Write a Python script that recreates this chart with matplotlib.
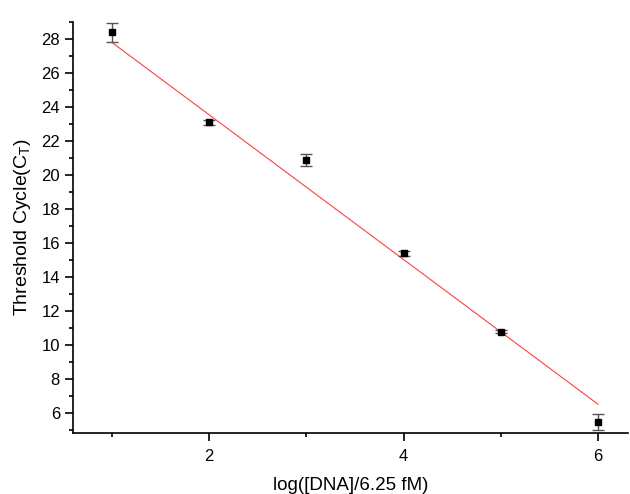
import numpy as np
import matplotlib.pyplot as plt

plt.rcParams['font.family'] = ['Liberation Sans', 'DejaVu Sans']

# data
log_conc = [1, 2, 3, 4, 5, 6]
ct_mean = [28.39, 23.1, 20.9, 15.4, 10.78, 5.45]
ct_err = [0.55, 0.15, 0.35, 0.15, 0.08, 0.47]

# linear fit shown as red line
fit_slope = -4.26
fit_intercept = 32.06

fig = plt.figure(figsize=(6.3, 4.94), dpi=100)
ax = fig.add_axes([0.116, 0.124, 0.881, 0.832])

xfit = np.array([log_conc[0], log_conc[-1]])
ax.plot(xfit, fit_intercept + fit_slope * xfit, color='#ff4040', lw=0.8, zorder=2)

ax.errorbar(log_conc, ct_mean, yerr=ct_err, fmt='s', color='black', ms=4.5,
            ecolor='#555555', elinewidth=1.0, capsize=4, capthick=1.0, zorder=3)

ax.set_xlim(0.6, 6.31)
ax.set_ylim(4.82, 29.02)
ax.set_xticks([2, 4, 6])
ax.set_xticks([1, 3, 5], minor=True)
ax.set_yticks(np.arange(6, 29, 2))
ax.set_yticks(np.arange(5, 30, 2), minor=True)

for s in ['top', 'right']:
    ax.spines[s].set_visible(False)
for s in ['left', 'bottom']:
    ax.spines[s].set_linewidth(1.2)

ax.tick_params(which='major', direction='out', length=6, width=1.2, labelsize=12)
ax.tick_params(axis='x', which='major', pad=6)
ax.tick_params(which='minor', direction='out', length=3, width=1.2)

ax.set_xlabel('log([DNA]/6.25 fM)', fontsize=13.5, labelpad=9)
ax.set_ylabel('Threshold Cycle(C$_\\mathregular{T}$)', fontsize=14, labelpad=6)

fig.savefig('out.png', dpi=100)
